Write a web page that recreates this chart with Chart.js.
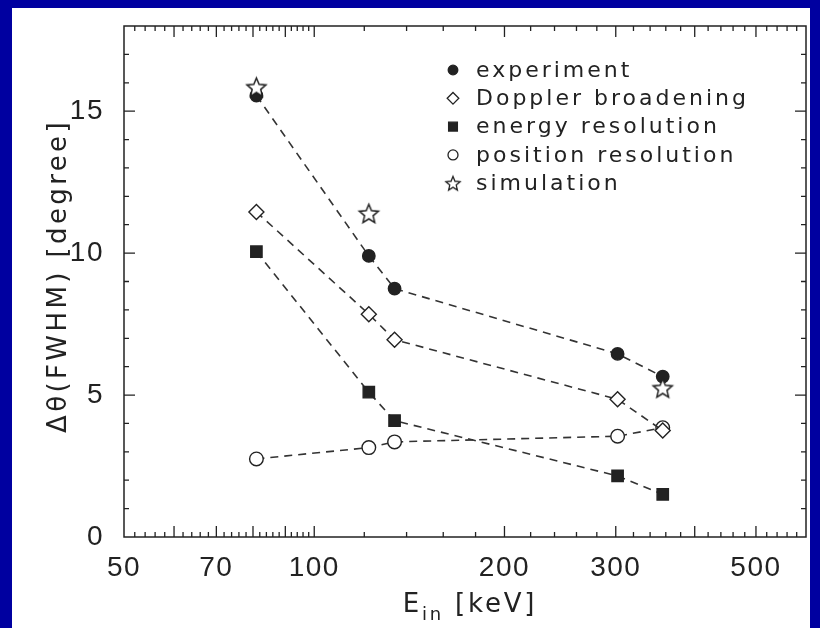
<!DOCTYPE html>
<html>
<head>
<meta charset="utf-8">
<script src="https://cdn.jsdelivr.net/npm/chart.js@4.4.1/dist/chart.umd.min.js"></script>
<style>
  html, body { margin: 0; padding: 0; background: #0000a0; }
  body { width: 820px; height: 628px; position: relative; overflow: hidden; }
  #panel { position: absolute; left: 12px; top: 8px; width: 798px; height: 620px; background: #fff; }
</style>
</head>
<body>
<div id="panel"><canvas id="fwhmChart" width="798" height="620"></canvas></div>
<script>
// values
const energies = [81, 122, 134, 302, 356];
const experiment = [15.55, 9.9, 8.75, 6.45, 5.65];
const doppler = [11.45, 7.85, 6.95, 4.85, 3.75];
const energyRes = [10.05, 5.1, 4.1, 2.15, 1.5];
const positionRes = [2.75, 3.15, 3.35, 3.55, 3.85];
const simEnergies = [81, 122, 356];
const simulation = [15.85, 11.4, 5.25];

const xTickLabels = [50, 70, 100, 200, 300, 500];
const yTickLabels = [0, 5, 10, 15];
const seriesNames = ["experiment", "Doppler broadening", "energy resolution", "position resolution", "simulation"];

const ink = "#222";

// open five-pointed star used as a point style
function makeStar(outer, lw) {
  const size = Math.ceil(outer * 2 + lw * 2 + 2);
  const c = document.createElement("canvas");
  c.width = size;
  c.height = size;
  const g = c.getContext("2d");
  const cx = size / 2, cy = size / 2 + outer * 0.1;
  const inner = outer * 0.45;
  g.beginPath();
  for (let i = 0; i < 10; i++) {
    const r = i % 2 ? inner : outer;
    const a = -Math.PI / 2 + i * Math.PI / 5;
    g.lineTo(cx + r * Math.cos(a), cy + r * Math.sin(a));
  }
  g.closePath();
  g.fillStyle = "#fff";
  g.fill();
  g.strokeStyle = ink;
  g.lineWidth = lw;
  g.stroke();
  return c;
}
const bigStar = makeStar(10, 1.5);
const smallStar = makeStar(7.5, 1.3);

const pts = (xs, ys) => xs.map((x, i) => ({ x: x, y: ys[i] }));

const dashedLine = {
  showLine: true,
  borderColor: "#333",
  borderWidth: 1.6,
  borderDash: [8, 6],
  pointBorderColor: ink,
  pointBorderWidth: 1.4,
};

// legend markers, smaller than the plot markers
const legendMarks = [
  { pointStyle: "circle", radius: 4.8, fill: ink },
  { pointStyle: "rectRot", radius: 5.8, fill: "#fff" },
  { pointStyle: "rect", radius: 6.2, fill: ink },
  { pointStyle: "circle", radius: 5, fill: "#fff" },
  { pointStyle: smallStar, radius: 7, fill: "#fff" },
];

const framePlugin = {
  id: "frame",
  beforeDraw(chart) {
    chart.ctx.letterSpacing = "1.5px";
  },
  afterDraw(chart) {
    const { ctx, chartArea: a, scales } = chart;
    ctx.save();
    ctx.strokeStyle = ink;
    ctx.lineWidth = 1.5;
    ctx.strokeRect(a.left, a.top, a.right - a.left, a.bottom - a.top);
    ctx.lineWidth = 1.3;
    ctx.beginPath();
    // x ticks, inward on bottom and top
    const xt = [];
    for (let v = 52; v < 100; v += 2) xt.push([v, v % 10 === 0]);
    for (let v = 100; v < 600; v += 20) xt.push([v, v % 100 === 0]);
    xt.forEach(([v, major]) => {
      const px = scales.x.getPixelForValue(v);
      const len = major ? 11 : 5;
      ctx.moveTo(px, a.bottom); ctx.lineTo(px, a.bottom - len);
      ctx.moveTo(px, a.top); ctx.lineTo(px, a.top + len);
    });
    // y ticks, inward on left and right
    for (let v = 1; v < 18; v++) {
      const py = scales.y.getPixelForValue(v);
      const len = v % 5 === 0 ? 11 : 5;
      ctx.moveTo(a.left, py); ctx.lineTo(a.left + len, py);
      ctx.moveTo(a.right, py); ctx.lineTo(a.right - len, py);
    }
    ctx.stroke();

    // legend
    ctx.font = "22px 'DejaVu Sans'";
    ctx.letterSpacing = "3px";
    ctx.textBaseline = "middle";
    ctx.textAlign = "left";
    seriesNames.forEach((name, i) => {
      const y = 62 + i * 28.3;
      const m = legendMarks[i];
      ctx.fillStyle = m.fill;
      ctx.strokeStyle = ink;
      ctx.lineWidth = 1.3;
      Chart.helpers.drawPoint(ctx, { pointStyle: m.pointStyle, radius: m.radius, rotation: 0, borderWidth: 1.3 }, 441, y);
      ctx.fillStyle = ink;
      ctx.fillText(name, 464, y + 1);
    });

    // axis titles
    ctx.font = "26px 'DejaVu Sans'";
    ctx.letterSpacing = "3.4px";
    ctx.textAlign = "center";
    ctx.save();
    ctx.translate(47, 268);
    ctx.rotate(-Math.PI / 2);
    ctx.fillText("\u0394\u03b8(FWHM) [degree]", 0, 0);
    ctx.restore();

    ctx.letterSpacing = "2.8px";
    ctx.textAlign = "left";
    ctx.textBaseline = "alphabetic";
    const big = "26px 'DejaVu Sans'", sub = "18px 'DejaVu Sans'";
    ctx.font = big; const wE = ctx.measureText("E").width;
    ctx.font = sub; const wIn = ctx.measureText("in").width;
    ctx.font = big; const wRest = ctx.measureText(" [keV]").width;
    let x0 = 458 - (wE + wIn + wRest) / 2;
    const base = 604;
    ctx.font = big; ctx.fillText("E", x0, base); x0 += wE;
    ctx.font = sub; ctx.fillText("in", x0, base + 8); x0 += wIn;
    ctx.font = big; ctx.fillText(" [keV]", x0, base);
    ctx.restore();
  },
};

const tickFont = { family: "'Liberation Sans'", size: 28 };

new Chart(document.getElementById("fwhmChart").getContext("2d"), {
  type: "line",
  data: {
    datasets: [
      Object.assign({ label: seriesNames[0], data: pts(energies, experiment), pointStyle: "circle", pointRadius: 6.2, pointBackgroundColor: ink }, dashedLine),
      Object.assign({ label: seriesNames[1], data: pts(energies, doppler), pointStyle: "rectRot", pointRadius: 7.5, pointBackgroundColor: "#fff" }, dashedLine),
      Object.assign({ label: seriesNames[2], data: pts(energies, energyRes), pointStyle: "rect", pointRadius: 8, pointBackgroundColor: ink }, dashedLine),
      Object.assign({ label: seriesNames[3], data: pts(energies, positionRes), pointStyle: "circle", pointRadius: 6.8, pointBackgroundColor: "#fff" }, dashedLine),
      { label: seriesNames[4], data: pts(simEnergies, simulation), showLine: false, pointStyle: bigStar, pointRadius: 10, order: -1 },
    ],
  },
  options: {
    responsive: false,
    animation: false,
    events: [],
    layout: { autoPadding: false, padding: { top: 18, right: 4, left: 0, bottom: 0 } },
    plugins: { legend: { display: false }, tooltip: { enabled: false } },
    scales: {
      x: {
        type: "logarithmic",
        min: 50,
        max: 600,
        afterBuildTicks: (s) => { s.ticks = xTickLabels.map((v) => ({ value: v })); },
        afterFit: (s) => { s.height = 91; s.paddingLeft = 0; s.paddingRight = 0; },
        grid: { display: false },
        border: { display: false },
        ticks: { callback: (v) => String(v), font: tickFont, color: ink, padding: 6, maxRotation: 0, autoSkip: false },
      },
      y: {
        min: 0,
        max: 18,
        afterBuildTicks: (s) => { s.ticks = yTickLabels.map((v) => ({ value: v })); },
        afterFit: (s) => { s.width = 112; s.paddingTop = 0; s.paddingBottom = 0; },
        grid: { display: false },
        border: { display: false },
        ticks: { font: tickFont, color: ink, padding: 12 },
      },
    },
  },
  plugins: [framePlugin],
});
</script>
</body>
</html>
